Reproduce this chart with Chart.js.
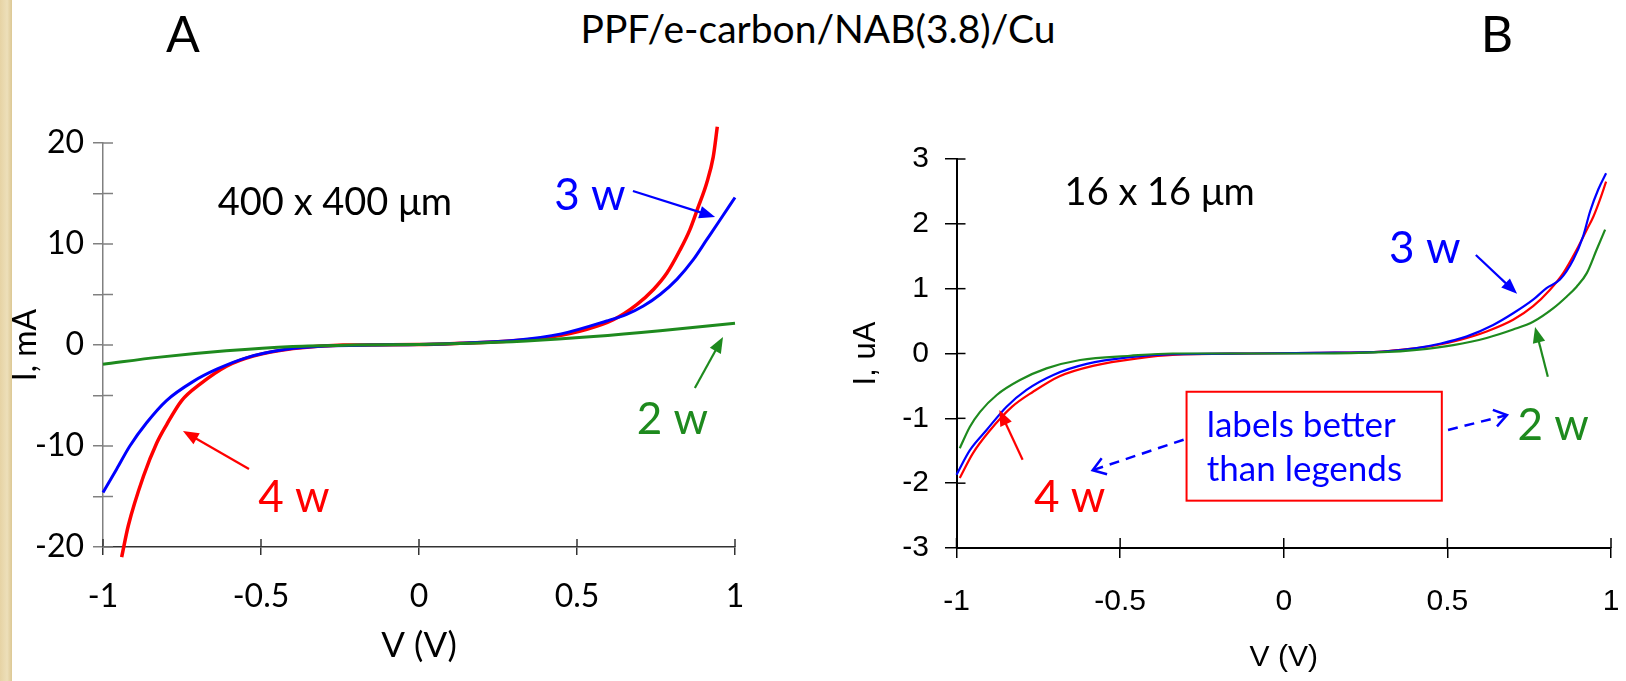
<!DOCTYPE html>
<html>
<head>
<meta charset="utf-8">
<script src="https://cdn.jsdelivr.net/npm/chart.js@4.4.1/dist/chart.umd.min.js"></script>
<style>
  html, body { margin: 0; padding: 0; background: #fff; }
  body { width: 1626px; height: 681px; position: relative; overflow: hidden; font-family: Lato, sans-serif; }
  .strip { position: absolute; left: 0; top: 0; width: 12px; height: 681px;
           background: linear-gradient(90deg, #e6d3a4, #eddfb9 60%, #dcc894); }
  canvas { position: absolute; top: 0; }
  #chartA { left: 0; }
  #chartB { left: 813px; }
  .lbl { position: absolute; color: #000; white-space: nowrap; line-height: 1; text-align: center; }
</style>
</head>
<body>
<div class="strip"></div>
<div class="lbl" style="left:133px; width:100px; top:8px; font-size:50px;">A</div>
<div class="lbl" style="left:518px; width:600px; top:9px; font-size:39px;">PPF/e-carbon/NAB(3.8)/Cu</div>
<div class="lbl" style="left:1447px; width:100px; top:8px; font-size:50px;">B</div>
<canvas id="chartA" width="813" height="681"></canvas>
<canvas id="chartB" width="860" height="681"></canvas>
<script>
// ---- panel A : 400 x 400 um junction, current in mA ----
const vA4 = [-0.941,-0.92,-0.872,-0.83,-0.798,-0.751,-0.694,-0.609,-0.525,-0.398,-0.24,0,0.13,0.288,0.425,0.531,0.615,0.689,0.742,0.784,0.826,0.857,0.884,0.91,0.931,0.944];
const iA4 = [-21.0,-17.9,-13.0,-9.7,-7.85,-5.5,-3.9,-2.1,-1.1,-0.36,0,0.05,0.17,0.4,0.83,1.55,2.5,4.0,5.5,7.1,9.4,11.4,13.7,16.0,18.6,21.6];
const vA3 = [-1.0,-0.957,-0.915,-0.862,-0.799,-0.714,-0.64,-0.545,-0.42,-0.293,-0.15,0,0.15,0.3,0.45,0.594,0.657,0.71,0.763,0.816,0.868,0.91,0.953,1.0];
const iA3 = [-14.6,-12.3,-10.0,-7.7,-5.5,-3.6,-2.4,-1.25,-0.43,-0.1,0,0.05,0.2,0.45,1.1,2.38,3.04,3.86,5.0,6.5,8.45,10.4,12.4,14.6];
const vA2 = [-1.0,-0.82,-0.61,-0.40,-0.2,0,0.13,0.34,0.552,0.763,1.0];
const iA2 = [-1.9,-1.2,-0.57,-0.14,0,0.05,0.14,0.4,0.83,1.4,2.15];
const yTicksA = [-20,-15,-10,-5,0,5,10,15,20];
const yLabelsA = ['-20','','-10','','0','','10','','20'];

// ---- panel B : 16 x 16 um junction, current in uA ----
const vB4 = [-0.99,-0.95,-0.90,-0.83,-0.766,-0.685,-0.583,-0.44,-0.34,-0.1,0.1,0.3,0.355,0.457,0.538,0.62,0.701,0.762,0.813,0.854,0.895,0.926,0.946,0.966,0.985];
const iB4 = [-1.92,-1.54,-1.2,-0.82,-0.59,-0.35,-0.19,-0.07,-0.02,0,0.01,0.03,0.057,0.12,0.21,0.34,0.52,0.73,0.98,1.24,1.60,1.91,2.11,2.37,2.65];
const vB3 = [-1.0,-0.959,-0.908,-0.847,-0.786,-0.704,-0.602,-0.47,-0.34,-0.1,0.1,0.304,0.406,0.477,0.558,0.64,0.701,0.762,0.803,0.844,0.885,0.915,0.936,0.961,0.985];
const iB3 = [-1.87,-1.49,-1.18,-0.82,-0.56,-0.33,-0.16,-0.056,-0.01,0,0.01,0.03,0.083,0.15,0.26,0.44,0.62,0.83,1.01,1.14,1.45,1.81,2.19,2.53,2.78];
const vB2 = [-0.99,-0.959,-0.928,-0.877,-0.806,-0.725,-0.622,-0.47,-0.34,-0.1,0.1,0.3,0.406,0.518,0.62,0.701,0.762,0.824,0.865,0.895,0.926,0.956,0.982];
const iB2 = [-1.46,-1.13,-0.90,-0.64,-0.41,-0.23,-0.10,-0.035,0,0,0,0.02,0.057,0.13,0.24,0.37,0.49,0.70,0.88,1.03,1.24,1.60,1.91];
const yTicksB = [-3,-2,-1,0,1,2,3];

const vTicks = [-1,-0.5,0,0.5,1];
const vLabels = ['-1','-0.5','0','0.5','1'];

const RED = '#ff0000', BLUE = '#0000ff', GREEN = '#1e8a1e';
const toPts = (xs, ys) => xs.map((v, i) => ({x: v, y: ys[i]}));

// labels, arrows and the note box, placed in data units
const notes = {
  chartA: {
    inner: {x: 8, y: 10, xColor: '#333', yColor: '#808080'},
    texts: [
      {t: '400 x 400 \u03bcm', x: -0.266, y: 12.87, c: '#000', f: '38px Lato'},
      {t: '3 w', x: 0.541, y: 13.37, c: BLUE, f: '44px Lato'},
      {t: '2 w', x: 0.802, y: -8.8, c: GREEN, f: '44px Lato'},
      {t: '4 w', x: -0.396, y: -16.5, c: RED, f: '44px Lato'}
    ],
    arrows: [
      {x0: 0.677, y0: 15.25, x1: 0.937, y1: 12.67, c: BLUE},
      {x0: 0.873, y0: -4.26, x1: 0.962, y1: 0.79, c: GREEN},
      {x0: -0.538, y0: -12.28, x1: -0.747, y1: -8.51, c: RED}
    ],
    boxes: []
  },
  chartB: {
    inner: {x: 10, y: 9, xColor: '#000', yColor: '#000'},
    texts: [
      {t: '16 x 16 \u03bcm', x: -0.379, y: 2.295, c: '#000', f: '38px Lato'},
      {t: '3 w', x: 0.431, y: 1.39, c: BLUE, f: '44px Lato'},
      {t: '2 w', x: 0.823, y: -1.33, c: GREEN, f: '44px Lato'},
      {t: '4 w', x: -0.654, y: -2.45, c: RED, f: '44px Lato'},
      {t: 'labels better', x: -0.2355, y: -1.29, c: BLUE, f: '35px Lato', a: 'left'},
      {t: 'than legends', x: -0.2355, y: -1.97, c: BLUE, f: '35px Lato', a: 'left'}
    ],
    arrows: [
      {x0: 0.587, y0: 1.52, x1: 0.713, y1: 0.92, c: BLUE},
      {x0: 0.807, y0: -0.36, x1: 0.768, y1: 0.41, c: GREEN},
      {x0: -0.798, y0: -1.64, x1: -0.869, y1: -0.87, c: RED},
      {x0: 0.502, y0: -1.18, x1: 0.682, y1: -0.95, c: BLUE, dash: true},
      {x0: -0.306, y0: -1.33, x1: -0.584, y1: -1.80, c: BLUE, dash: true}
    ],
    boxes: [{x0: -0.297, y0: -0.59, x1: 0.483, y1: -2.27, c: RED}]
  }
};

function drawArrow(ctx, ax, ay, bx, by, color, dash) {
  const ang = Math.atan2(by - ay, bx - ax);
  ctx.strokeStyle = color; ctx.fillStyle = color;
  ctx.lineWidth = dash ? 2.5 : 2.2;
  ctx.setLineDash(dash ? [10, 7] : []);
  const back = dash ? 0 : 12;
  ctx.beginPath();
  ctx.moveTo(ax, ay);
  ctx.lineTo(bx - back * Math.cos(ang), by - back * Math.sin(ang));
  ctx.stroke();
  ctx.setLineDash([]);
  if (dash) {
    ctx.beginPath();
    ctx.moveTo(bx - 15 * Math.cos(ang - 0.6), by - 15 * Math.sin(ang - 0.6));
    ctx.lineTo(bx, by);
    ctx.lineTo(bx - 15 * Math.cos(ang + 0.6), by - 15 * Math.sin(ang + 0.6));
    ctx.stroke();
  } else {
    ctx.beginPath();
    ctx.moveTo(bx, by);
    ctx.lineTo(bx - 17 * Math.cos(ang - 0.38), by - 17 * Math.sin(ang - 0.38));
    ctx.lineTo(bx - 17 * Math.cos(ang + 0.38), by - 17 * Math.sin(ang + 0.38));
    ctx.closePath();
    ctx.fill();
  }
}

const marksPlugin = {
  id: 'marks',
  beforeDatasetsDraw(chart) {
    // tick marks that cross into the plot
    const n = notes[chart.canvas.id];
    const {ctx, chartArea: ca, scales: {x, y}} = chart;
    ctx.save();
    ctx.lineWidth = 1.5;
    ctx.strokeStyle = n.inner.xColor;
    x.ticks.forEach((t, i) => {
      const p = x.getPixelForTick(i);
      ctx.beginPath(); ctx.moveTo(p, ca.bottom); ctx.lineTo(p, ca.bottom - n.inner.x); ctx.stroke();
    });
    ctx.strokeStyle = n.inner.yColor;
    y.ticks.forEach((t, i) => {
      const p = y.getPixelForTick(i);
      ctx.beginPath(); ctx.moveTo(ca.left, p); ctx.lineTo(ca.left + n.inner.y, p); ctx.stroke();
    });
    ctx.restore();
  },
  afterDatasetsDraw(chart) {
    const n = notes[chart.canvas.id];
    const {ctx, scales: {x, y}} = chart;
    const px = v => x.getPixelForValue(v), py = v => y.getPixelForValue(v);
    ctx.save();
    n.boxes.forEach(b => {
      ctx.strokeStyle = b.c; ctx.lineWidth = 2;
      ctx.strokeRect(px(b.x0), py(b.y0), px(b.x1) - px(b.x0), py(b.y1) - py(b.y0));
    });
    n.arrows.forEach(a => drawArrow(ctx, px(a.x0), py(a.y0), px(a.x1), py(a.y1), a.c, a.dash));
    n.texts.forEach(t => {
      ctx.font = t.f; ctx.fillStyle = t.c;
      ctx.textAlign = t.a || 'center'; ctx.textBaseline = 'alphabetic';
      ctx.fillText(t.t, px(t.x), py(t.y));
    });
    ctx.restore();
  }
};

function lineSet(label, xs, ys, color, width) {
  return {label, data: toPts(xs, ys), borderColor: color, borderWidth: width,
          pointRadius: 0, fill: false, cubicInterpolationMode: 'monotone', clip: false};
}

function renderPanel(id, sets, s) {
  return new Chart(document.getElementById(id), {
    type: 'line',
    data: {datasets: sets},
    plugins: [marksPlugin],
    options: {
      responsive: false,
      animation: false,
      layout: {padding: {left: 0, top: s.top, right: s.right, bottom: 0}},
      plugins: {legend: {display: false}, tooltip: {enabled: false}},
      scales: {
        x: {
          type: 'linear', min: -1, max: 1,
          afterBuildTicks: sc => { sc.ticks = vTicks.map(v => ({value: v})); },
          afterFit: sc => { sc.height = s.xH; },
          ticks: {font: s.tickFont, color: '#000', padding: s.xPad, maxRotation: 0, autoSkip: false,
                  callback: (v, i) => vLabels[i]},
          grid: {drawOnChartArea: false, tickLength: s.xTick, color: s.xColor, lineWidth: 1.5},
          border: {color: s.xColor, width: s.axisW},
          title: {display: true, text: 'V (V)', font: s.xTitleFont, color: '#000', padding: {top: 0, bottom: s.xTitlePad}}
        },
        y: {
          type: 'linear', min: s.yTicks[0], max: s.yTicks[s.yTicks.length - 1],
          afterBuildTicks: sc => { sc.ticks = s.yTicks.map(v => ({value: v})); },
          afterFit: sc => { sc.width = s.yW; },
          ticks: {font: s.tickFont, color: '#000', padding: s.yPad, autoSkip: false,
                  callback: (v, i) => s.yLabels[i]},
          grid: {drawOnChartArea: false, tickLength: s.yTick, color: s.yColor, lineWidth: 1.5},
          border: {color: s.yColor, width: s.axisW},
          title: {display: true, text: s.yTitle, font: s.yTitleFont, color: '#000', padding: {top: s.yTitlePad, bottom: 0}}
        }
      }
    }
  });
}

renderPanel('chartA', [
  lineSet('2 w', vA2, iA2, GREEN, 3),
  lineSet('3 w', vA3, iA3, BLUE, 3),
  lineSet('4 w', vA4, iA4, RED, 3.5)
], {
  top: 143, right: 78, xH: 134, yW: 103,
  tickFont: {family: 'Lato', size: 32}, xPad: 22, yPad: 9, xTick: 8, yTick: 10,
  xColor: '#333', yColor: '#808080', axisW: 1.5,
  yTicks: yTicksA, yLabels: yLabelsA,
  yTitle: 'I, mA', xTitleFont: {family: 'Lato', size: 35}, yTitleFont: {family: 'Lato', size: 32},
  xTitlePad: 14, yTitlePad: 6
});

renderPanel('chartB', [
  lineSet('2 w', vB2, iB2, GREEN, 2.2),
  lineSet('3 w', vB3, iB3, BLUE, 2.2),
  lineSet('4 w', vB4, iB4, RED, 2.2)
], {
  top: 159, right: 62, xH: 133, yW: 143.5,
  tickFont: {family: 'Liberation Sans', size: 30}, xPad: 26, yPad: 16, xTick: 10, yTick: 11.5,
  xColor: '#000', yColor: '#000', axisW: 2,
  yTicks: yTicksB, yLabels: yTicksB.map(String),
  yTitle: 'I, uA', xTitleFont: {family: 'Liberation Sans', size: 30}, yTitleFont: {family: 'Liberation Sans', size: 31},
  xTitlePad: 5, yTitlePad: 35
});
</script>
</body>
</html>
